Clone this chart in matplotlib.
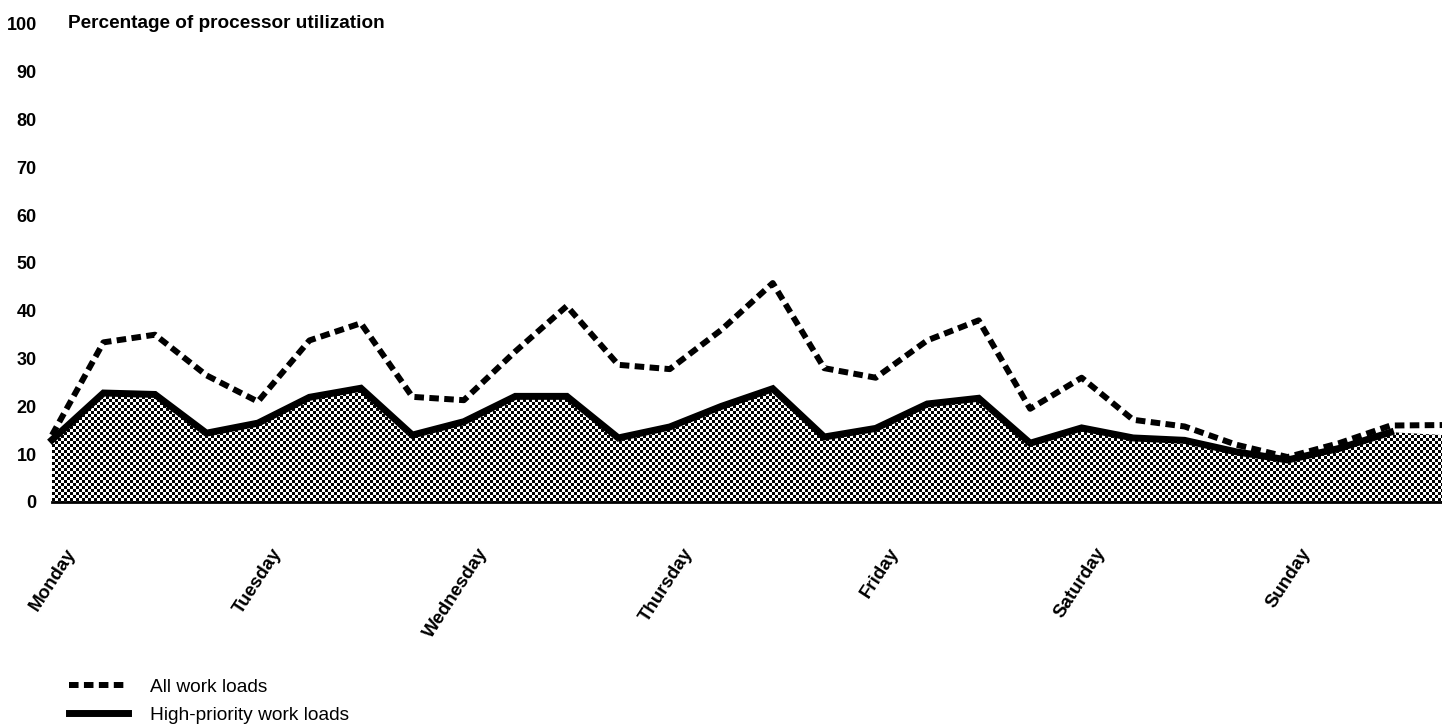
import numpy as np
import matplotlib.pyplot as plt
from matplotlib.lines import Line2D
from matplotlib.transforms import ScaledTranslation, blended_transform_factory

plt.rcParams["font.family"] = ["Liberation Sans", "DejaVu Sans"]

# Four readings per day (every 6 hours), Monday 00:00 .. Sunday 18:00 + end
days = ["Monday", "Tuesday", "Wednesday", "Thursday", "Friday", "Saturday", "Sunday"]
POINTS_PER_DAY = 4

all_loads = [
    14, 33.4, 35, 26.5,
    21, 33.8, 37.4, 22,
    21.3, 31.5, 41, 28.7,
    27.8, 36, 45.8, 28,
    26, 33.8, 38, 19.5,
    26, 17.2, 15.8, 12,
    9.4, 12.3, 16, 16.1,
]
high_priority = [
    13, 22.8, 22.5, 14.4,
    16.5, 21.9, 23.8, 14,
    16.8, 22.1, 22.1, 13.4,
    15.7, 20, 23.7, 13.6,
    15.4, 20.5, 21.7, 12.3,
    15.5, 13.4, 12.9, 10.5,
    8.8, 11.2, 14.6, 14,
]
y_ticks = list(range(0, 101, 10))

W, H = 1442, 727
fig = plt.figure(figsize=(W / 100, H / 100), dpi=100)
ax = fig.add_axes([52 / W, 1 - 502 / H, 1390 / W, 478 / H])

x = np.arange(len(all_loads))

# shaded area under the high-priority curve, halftone look
area = ax.fill_between(x, 0, high_priority, facecolor="#9a9a9a", linewidth=0, zorder=1)
ii, jj = np.indices((478, 1390))
checker = (ii // 3 + jj // 3) % 2
img = ax.imshow(checker, cmap="gray", vmin=0, vmax=1, aspect="auto",
                interpolation="nearest", extent=(x[0], x[-1], 0, 100), zorder=2)
img.set_clip_path(area.get_paths()[0], transform=ax.transData)

ax.plot(x[:-1], high_priority[:-1], color="black", lw=5,
        solid_joinstyle="miter", zorder=3, clip_on=False)
ax.plot(x, all_loads, color="black", lw=4.3, linestyle=(0, (1.6, 0.9)),
        dash_capstyle="butt", zorder=4, clip_on=False)

ax.set_xlim(x[0], x[-1])
ax.set_ylim(0, 100)

for side in ["top", "right", "left"]:
    ax.spines[side].set_visible(False)
ax.spines["bottom"].set_linewidth(2)

ax.set_yticks(y_ticks)
ax.tick_params(axis="y", length=0, pad=11, labelsize=13)
for lab in ax.get_yticklabels():
    lab.set_fontweight("bold")

ax.set_xticks(x[::POINTS_PER_DAY], days, rotation=57, ha="right", va="top",
              fontsize=13.5, fontweight="bold")
ax.tick_params(axis="x", length=0, pad=31)
shift = ScaledTranslation(27 / 100, 0, fig.dpi_scale_trans)
for lab in ax.get_xticklabels():
    lab.set_transform(lab.get_transform() + shift)

ax.text(16 / 1390, 100, "Percentage of processor utilization",
        transform=blended_transform_factory(ax.transAxes, ax.transData),
        ha="left", va="center", fontsize=13.7, fontweight="bold")

handles = [
    Line2D([], [], color="black", lw=4.3, linestyle=(0, (1.6, 0.9)), dash_capstyle="butt"),
    Line2D([], [], color="black", lw=5),
]
fig.legend(handles, ["All work loads", "High-priority work loads"],
           loc="center left", bbox_to_anchor=(69 / W, 1 - 701 / H),
           frameon=False, fontsize=13.8, handlelength=3.1, handletextpad=1.1,
           labelspacing=0.55, borderpad=0, borderaxespad=0)

fig.savefig("out.png", dpi=100)
